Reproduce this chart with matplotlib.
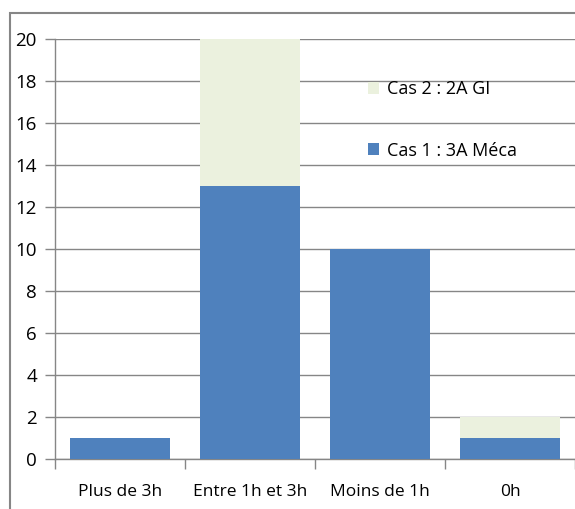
import matplotlib.pyplot as plt
from matplotlib.patches import Rectangle
import numpy as np

categories = ["Plus de 3h", "Entre 1h et 3h", "Moins de 1h", "0h"]
cas1 = [1, 13, 10, 1]
cas2 = [0, 7, 0, 1]

plt.rcParams['font.family'] = ['Open Sans', 'DejaVu Sans']

grey = "#868686"
fig = plt.figure(figsize=(5.75, 5.09), dpi=100)
ax = fig.add_axes([55/575, 1 - 459/509, 520/575, 420/509])

x = np.arange(len(categories))
b1 = ax.bar(x, cas1, width=0.77, color="#4F81BD", label="Cas 1 : 3A Méca", zorder=3)
b2 = ax.bar(x, cas2, width=0.77, bottom=cas1, color="#EBF1DE", label="Cas 2 : 2A GI", zorder=3)

ax.set_xlim(-0.5, 3.5)
ax.set_ylim(0, 20)
ax.set_yticks(range(0, 21, 2))
ax.yaxis.grid(True, color=grey, linewidth=1)
ax.set_axisbelow(True)

ax.set_xticks(x)
ax.set_xticklabels(categories)
ax.set_xticks(np.arange(-0.5, 4, 1), minor=True)
ax.tick_params(axis='x', which='major', length=0, pad=18, labelsize=12.5)
ax.tick_params(axis='x', which='minor', length=7, color=grey, width=1)
ax.tick_params(axis='y', length=7, color=grey, width=1, labelsize=13.5, pad=6)

for s in ['top', 'right']:
    ax.spines[s].set_visible(False)
for s in ['left', 'bottom']:
    ax.spines[s].set_color(grey)
    ax.spines[s].set_linewidth(1)

ax.legend(handles=[b2, b1], loc='upper left', bbox_to_anchor=(0.57, 0.94),
          frameon=False, fontsize=13, labelspacing=2.4, handlelength=0.65,
          handleheight=0.65, handletextpad=0.4)

# outer chart frame
fig.add_artist(Rectangle((10/575, -0.1), 1.2, 1 - 13/509 + 0.1, transform=fig.transFigure,
                         fill=False, edgecolor=grey, linewidth=1.5))

fig.savefig("out.png", dpi=100)
